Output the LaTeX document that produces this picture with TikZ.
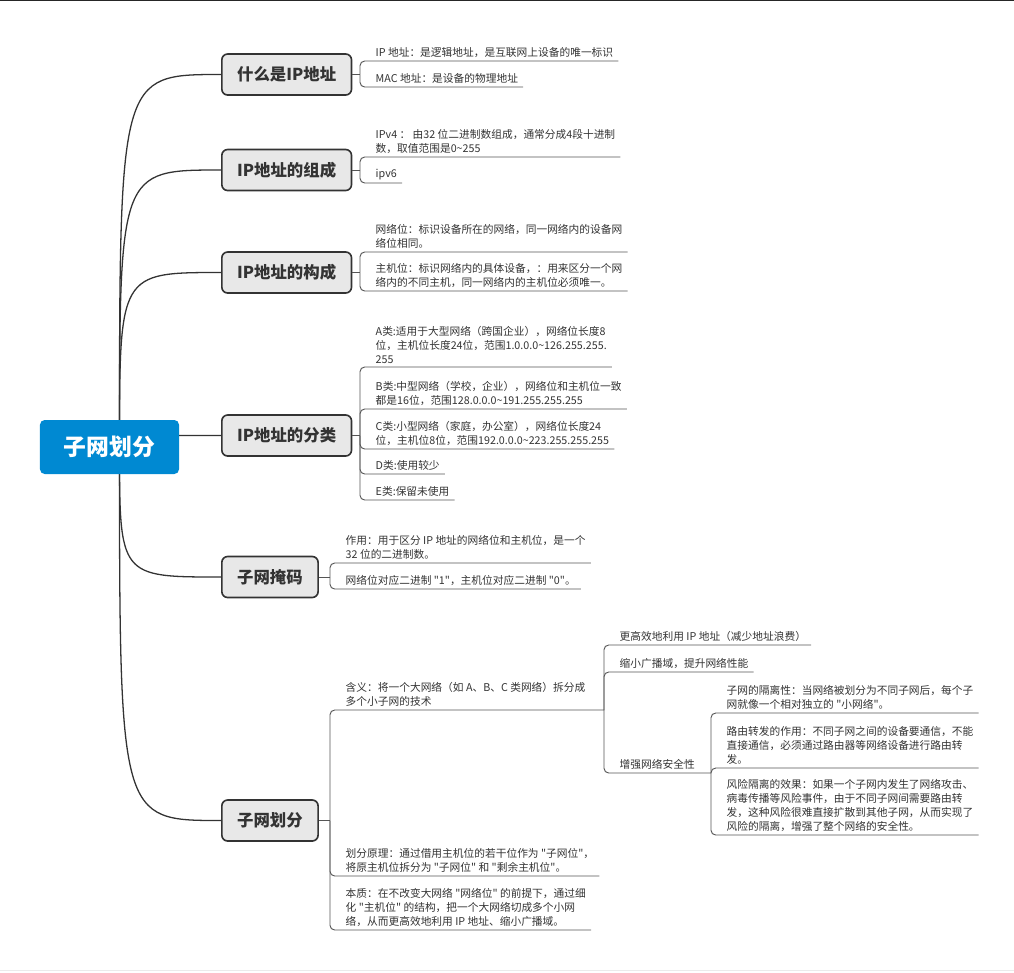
\documentclass[tikz,border=0pt]{standalone}
\usepackage{fontspec}
\newfontfamily\cjk{Noto Sans CJK SC}
\usetikzlibrary{backgrounds}
\definecolor{rootblue}{RGB}{0,137,210}
\definecolor{boxgray}{RGB}{232,232,232}
\definecolor{inkgray}{RGB}{51,51,51}
\definecolor{linegray}{RGB}{85,85,85}
\newcommand{\tld}{\char"7E\relax}

\tikzset{
  root/.style={fill=rootblue, rounded corners=4pt, text=white,
    font=\cjk\fontsize{19.5}{22}\selectfont\bfseries,
    minimum width=4.17cm, minimum height=1.62cm},
  branch/.style={draw=inkgray, line width=1.4pt, fill=boxgray, rounded corners=5pt,
    text=inkgray, font=\cjk\fontsize{14}{16}\selectfont\bfseries,
    minimum height=1.23cm, inner xsep=0.46cm, anchor=west},
  leaf/.style={anchor=south west, align=left, text=inkgray,
    font=\cjk\fontsize{9.15}{12}\selectfont, inner xsep=0.15cm, inner ysep=0.09cm},
  rootline/.style={draw=inkgray, line width=1.1pt},
  subline/.style={draw=linegray, line width=0.8pt, rounded corners=4pt},
}

\begin{document}
\begin{tikzpicture}[x=0.03cm, y=-0.03cm]
    \useasboundingbox (0,0) rectangle (1014,972);
    \draw[black!85, line width=1.2pt] (0,0.7) -- (1014,0.7);
    \draw[black!8, line width=0.8pt] (0,970.5) -- (1014,970.5);

    % Root and main branches
    \node[root] (root) at (109.5,447) {子网划分};
    \node[branch] (w1) at (221,74.5) {什么是IP地址};
    \node[branch] (w2) at (221,170) {IP地址的组成};
    \node[branch] (w3) at (221,272.5) {IP地址的构成};
    \node[branch] (w4) at (221,435.5) {IP地址的分类};
    \node[branch] (w5) at (221,577) {子网掩码};
    \node[branch] (w6) at (221,820.5) {子网划分};

    % Bracket points
    \coordinate (b1) at (360,74.5);
    \coordinate (b2) at (360,170);
    \coordinate (b3) at (360,272.5);
    \coordinate (b4) at (360,435.5);
    \coordinate (b5) at (330,577);
    \coordinate (b6) at (330,820.5);
    \coordinate (b61) at (604,710);
    \coordinate (b613) at (711,773);

    % Leaves
    \node[leaf] (l11) at (370.5,61) {IP 地址：是逻辑地址，是互联网上设备的唯一标识};
    \node[leaf] (l12) at (370.5,87) {MAC 地址：是设备的物理地址};
    \node[leaf] (l21) at (370.5,157) {IPv4 ： 由32 位二进制数组成，通常分成4段十进制\\数，取值范围是0\tld255};
    \node[leaf] (l22) at (370.5,183) {ipv6};
    \node[leaf] (l31) at (370.5,252) {网络位：标识设备所在的网络，同一网络内的设备网\\络位相同。};
    \node[leaf] (l32) at (370.5,291) {主机位：标识网络内的具体设备，：用来区分一个网\\络内的不同主机，同一网络内的主机位必须唯一。};
    \node[leaf] (l41) at (370.5,367) {A类:适用于大型网络（跨国企业），网络位长度8\\位，主机位长度24位，范围1.0.0.0\tld126.255.255.\\255};
    \node[leaf] (l42) at (370.5,409) {B类:中型网络（学校，企业），网络位和主机位一致\\都是16位，范围128.0.0.0\tld191.255.255.255};
    \node[leaf] (l43) at (370.5,449) {C类:小型网络（家庭，办公室），网络位长度24\\位，主机位8位，范围192.0.0.0\tld223.255.255.255};
    \node[leaf] (l44) at (370.5,474) {D类:使用较少};
    \node[leaf] (l45) at (370.5,500) {E类:保留未使用};
    \node[leaf] (l51) at (340.5,563) {作用：用于区分 IP 地址的网络位和主机位，是一个\\32 位的二进制数。};
    \node[leaf] (l52) at (340.5,589) {网络位对应二进制 "1"，主机位对应二进制 "0"。};
    \node[leaf] (l61) at (340.5,710) {含义：将一个大网络（如 A、B、C 类网络）拆分成\\多个小子网的技术};
    \node[leaf] (l62) at (340.5,876) {划分原理：通过借用主机位的若干位作为 "子网位"，\\将原主机位拆分为 "子网位" 和 "剩余主机位"。};
    \node[leaf] (l63) at (340.5,930) {本质：在不改变大网络 "网络位" 的前提下，通过细\\化 "主机位" 的结构，把一个大网络切成多个小网\\络，从而更高效地利用 IP 地址、缩小广播域。};
    \node[leaf] (l611) at (614.5,645) {更高效地利用 IP 地址（减少地址浪费）};
    \node[leaf] (l612) at (614.5,672) {缩小广播域，提升网络性能};
    \node[leaf] (l613) at (614.5,773) {增强网络安全性};
    \node[leaf] (l6131) at (721.5,713) {子网的隔离性：当网络被划分为不同子网后，每个子\\网就像一个相对独立的 "小网络"。};
    \node[leaf] (l6132) at (721.5,768) {路由转发的作用：不同子网之间的设备要通信，不能\\直接通信，必须通过路由器等网络设备进行路由转\\发。};
    \node[leaf] (l6133) at (721.5,835) {风险隔离的效果：如果一个子网内发生了网络攻击、\\病毒传播等风险事件，由于不同子网间需要路由转\\发，这种风险很难直接扩散到其他子网，从而实现了\\风险的隔离，增强了整个网络的安全性。};

    % Connectors
    \begin{pgfonlayer}{background}
        \coordinate (hub) at ([xshift=0.3cm]root.center);
        \foreach \w in {w1,w2,w3,w4,w5,w6}
            \draw[rootline] (hub) .. controls (hub |- \w.west) .. (\w.west);
    \end{pgfonlayer}
    \foreach \w/\b in {w1/b1, w2/b2, w3/b3, w4/b4, w5/b5, w6/b6}
        \draw[subline] (\w.east) -- (\b);
    \foreach \b/\l in {b1/l11, b1/l12, b2/l21, b2/l22, b3/l31, b3/l32,
        b4/l41, b4/l42, b4/l43, b4/l44, b4/l45, b5/l51, b5/l52,
        b6/l62, b6/l63, b61/l611, b61/l612,
        b613/l6131, b613/l6132, b613/l6133}
        \draw[subline] (\b) |- (\l.south east);
    \draw[subline] (b6) |- (b61);
    \draw[subline] (b61) |- (b613);
\end{tikzpicture}
\end{document}
